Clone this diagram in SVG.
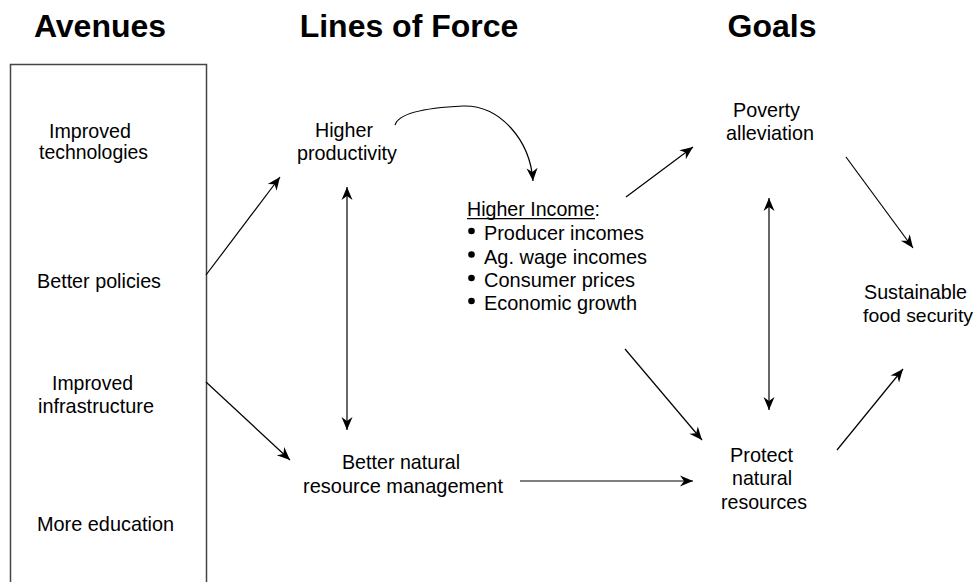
<svg xmlns="http://www.w3.org/2000/svg" width="978" height="582" viewBox="0 0 978 582">
<style>
text{font-family:"Liberation Sans",Arial,sans-serif;fill:#000}
.t{font-size:21px}
.h{font-size:32px;font-weight:bold;text-anchor:middle}
.c{stroke:#000;stroke-width:1.2;fill:none}
</style>
<defs>
<marker id="ah" viewBox="-14 -6 14 12" refX="0" refY="0" markerWidth="14" markerHeight="12" markerUnits="userSpaceOnUse" orient="auto-start-reverse">
<path d="M0,0 L-13,-5.5 L-9,0 L-13,5.5 Z" fill="#000"/>
</marker>
</defs>
<rect width="978" height="582" fill="#fff"/>
<g id="titles">
<text class="h" x="100" y="37">Avenues</text>
<text class="h" x="409" y="37">Lines of Force</text>
<text class="h" x="772" y="37">Goals</text>
</g>
<g id="avenues">
<rect x="10.5" y="64.5" width="196" height="540" fill="none" stroke="#444" stroke-width="1.5"/>
<text class="t" x="49" y="137.5" textLength="82" lengthAdjust="spacingAndGlyphs">Improved</text>
<text class="t" x="39" y="159" textLength="109" lengthAdjust="spacingAndGlyphs">technologies</text>
<text class="t" x="37" y="288" textLength="124" lengthAdjust="spacingAndGlyphs">Better policies</text>
<text class="t" x="52" y="389.5" textLength="81" lengthAdjust="spacingAndGlyphs">Improved</text>
<text class="t" x="38" y="413" textLength="116" lengthAdjust="spacingAndGlyphs">infrastructure</text>
<text class="t" x="37" y="531" textLength="137" lengthAdjust="spacingAndGlyphs">More education</text>
</g>
<g id="higher-productivity">
<text class="t" x="315" y="137" textLength="58" lengthAdjust="spacingAndGlyphs">Higher</text>
<text class="t" x="297" y="160" textLength="100" lengthAdjust="spacingAndGlyphs">productivity</text>
</g>
<g id="better-nrm">
<text class="t" x="342" y="469" textLength="118" lengthAdjust="spacingAndGlyphs">Better natural</text>
<text class="t" x="303" y="493" textLength="200" lengthAdjust="spacingAndGlyphs">resource management</text>
</g>
<g id="higher-income">
<text class="t" x="467" y="216" textLength="133" lengthAdjust="spacingAndGlyphs">Higher Income:</text>
<line x1="467" y1="218.6" x2="595" y2="218.6" stroke="#000" stroke-width="1.3"/>
<circle cx="471.5" cy="231" r="3.3"/>
<circle cx="471.5" cy="254.5" r="3.3"/>
<circle cx="471.5" cy="278" r="3.3"/>
<circle cx="471.5" cy="301" r="3.3"/>
<text class="t" x="484" y="240" textLength="160" lengthAdjust="spacingAndGlyphs">Producer incomes</text>
<text class="t" x="484" y="263.5" textLength="163" lengthAdjust="spacingAndGlyphs">Ag. wage incomes</text>
<text class="t" x="484" y="287" textLength="151" lengthAdjust="spacingAndGlyphs">Consumer prices</text>
<text class="t" x="484" y="310" textLength="153" lengthAdjust="spacingAndGlyphs">Economic growth</text>
</g>
<g id="poverty">
<text class="t" x="733" y="116.5" textLength="67" lengthAdjust="spacingAndGlyphs">Poverty</text>
<text class="t" x="726" y="140" textLength="88" lengthAdjust="spacingAndGlyphs">alleviation</text>
</g>
<g id="sustainable">
<text class="t" x="864" y="298.5" textLength="103" lengthAdjust="spacingAndGlyphs">Sustainable</text>
<text x="863" y="321.5" font-size="19" textLength="110" lengthAdjust="spacingAndGlyphs">food security</text>
</g>
<g id="protect">
<text class="t" x="730" y="461.5" textLength="63" lengthAdjust="spacingAndGlyphs">Protect</text>
<text class="t" x="732" y="485" textLength="60" lengthAdjust="spacingAndGlyphs">natural</text>
<text class="t" x="721" y="508.5" textLength="86" lengthAdjust="spacingAndGlyphs">resources</text>
</g>
<g id="connectors" class="c">
<line x1="206" y1="275" x2="280" y2="177" marker-end="url(#ah)"/>
<line x1="206" y1="382" x2="290" y2="460" marker-end="url(#ah)"/>
<line x1="347" y1="187" x2="347" y2="430" marker-start="url(#ah)" marker-end="url(#ah)"/>
<path d="M395,125 C398,115 420,108 463,106 C500,105 530,140 533,181" marker-end="url(#ah)"/>
<line x1="520" y1="481" x2="693" y2="481" marker-end="url(#ah)"/>
<line x1="626" y1="197" x2="693" y2="147" marker-end="url(#ah)"/>
<line x1="625" y1="349" x2="702" y2="440" marker-end="url(#ah)"/>
<line x1="846" y1="157" x2="913" y2="248" marker-end="url(#ah)"/>
<line x1="769" y1="198" x2="769" y2="410" marker-start="url(#ah)" marker-end="url(#ah)"/>
<line x1="837" y1="450" x2="903" y2="369" marker-end="url(#ah)"/>
</g>
</svg>
